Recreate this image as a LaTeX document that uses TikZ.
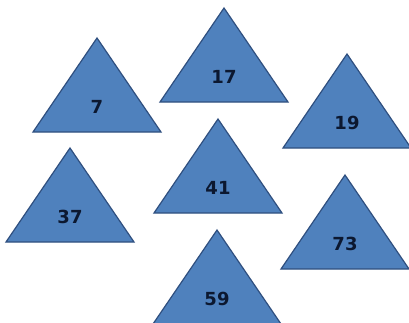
\documentclass[tikz,border=0pt]{standalone}
\usepackage{fontspec}
\setmainfont{DejaVu Sans}
\definecolor{triblue}{HTML}{4F81BD}
\definecolor{triedge}{HTML}{2F4F7F}
\definecolor{numtext}{HTML}{0C1830}
\begin{document}
\begin{tikzpicture}[x=1pt, y=-1pt,
  tri/.style={fill=triblue, draw=triedge, line width=1.2pt, line join=miter},
  num/.style={font=\bfseries\fontsize{18}{18}\selectfont, text=numtext}]
\useasboundingbox (0,0) rectangle (409,322);
\clip (0,0) rectangle (409,322);
% base centre x / base y / number
\foreach \bx/\by/\n in {97/132/7, 224/102/17, 347/148/19, 70/242/37,
                        218/213/41, 345/269/73, 217/324/59} {
  \draw[tri] (\bx-64,\by) -- (\bx,\by-94) -- (\bx+64,\by) -- cycle;
  \node[num] (n\n) at (\bx,\by-25) {\n};
}
\end{tikzpicture}
\end{document}
